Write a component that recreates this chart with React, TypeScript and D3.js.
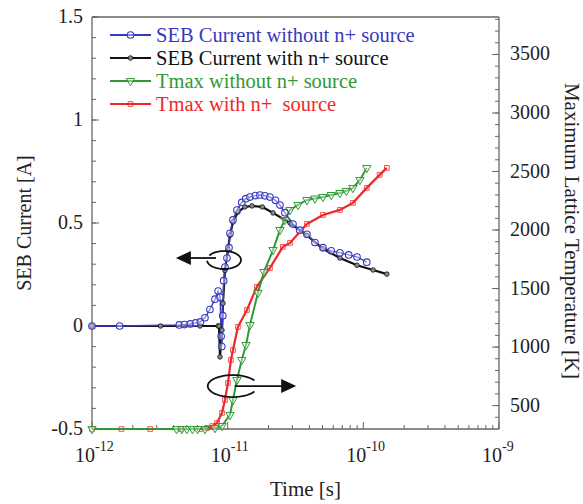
import React from 'react';
import * as d3 from 'd3';

// ---- data ----
const blueTime = [1e-12, 1.6e-12, 4.4e-12, 4.8e-12, 5.3e-12, 5.8e-12, 6.3e-12, 6.8e-12, 7.4e-12, 8.06e-12, 8.5e-12, 8.8e-12, 8.95e-12, 9.05e-12, 9.2e-12, 9.35e-12, 9.55e-12, 9.88e-12, 1.023e-11, 1.04e-11, 1.094e-11, 1.17e-11, 1.27e-11, 1.36e-11, 1.46e-11, 1.6e-11, 1.73e-11, 1.88e-11, 2.05e-11, 2.25e-11, 2.43e-11, 2.64e-11, 3.03e-11, 3.4e-11, 3.84e-11, 4.4e-11, 5.04e-11, 5.8e-11, 6.72e-11, 7.8e-11, 8.98e-11, 1.06e-10];
const blueCurrent = [0, 0, 0.005, 0.007, 0.01, 0.015, 0.02, 0.04, 0.08, 0.13, 0.17, 0.14, -0.05, -0.1, 0.05, 0.22, 0.286, 0.33, 0.38, 0.45, 0.515, 0.563, 0.6, 0.618, 0.626, 0.633, 0.636, 0.632, 0.626, 0.61, 0.587, 0.55, 0.495, 0.465, 0.445, 0.405, 0.38, 0.365, 0.355, 0.345, 0.335, 0.31];

const blackTime = [1e-12, 3.2e-12, 6.25e-12, 8.5e-12, 8.63e-12, 8.78e-12, 9.08e-12, 9.23e-12, 9.55e-12, 1.005e-11, 1.04e-11, 1.094e-11, 1.19e-11, 1.34e-11, 1.51e-11, 1.8e-11, 2.16e-11, 2.88e-11, 3.84e-11, 5.04e-11, 6.72e-11, 8.98e-11, 1.18e-10, 1.49e-10];
const blackCurrent = [0, 0, 0, 0, 0, -0.15, -0.02, 0.11, 0.27, 0.37, 0.44, 0.505, 0.553, 0.578, 0.583, 0.578, 0.549, 0.5, 0.44, 0.375, 0.33, 0.295, 0.272, 0.252];

const greenTime = [1e-12, 4.2e-12, 4.6e-12, 5.0e-12, 5.5e-12, 6.0e-12, 6.8e-12, 8.06e-12, 9.08e-12, 1.04e-11, 1.094e-11, 1.17e-11, 1.27e-11, 1.365e-11, 1.46e-11, 1.67e-11, 1.85e-11, 2.16e-11, 2.43e-11, 2.64e-11, 2.88e-11, 3.3e-11, 3.84e-11, 4.4e-11, 5.04e-11, 5.8e-11, 6.72e-11, 7.5e-11, 8.38e-11, 9.44e-11, 1.06e-10];
const greenTemp = [300, 300, 300, 300, 300, 300, 300, 309, 326, 420, 548, 719, 890, 1018, 1189, 1462, 1642, 1830, 2001, 2086, 2172, 2215, 2257, 2270, 2283, 2300, 2317, 2335, 2360, 2428, 2531];

const redTime = [1e-12, 1.65e-12, 2.68e-12, 4.5e-12, 6.25e-12, 7.04e-12, 7.7e-12, 8.34e-12, 9.08e-12, 9.55e-12, 1.005e-11, 1.057e-11, 1.094e-11, 1.19e-11, 1.387e-11, 1.64e-11, 2.05e-11, 2.55e-11, 2.88e-11, 3.84e-11, 5.04e-11, 6.72e-11, 8.38e-11, 1.06e-10, 1.32e-10, 1.49e-10];
const redTemp = [300, 300, 300, 300, 300, 309, 325, 351, 437, 548, 693, 890, 975, 1172, 1317, 1514, 1676, 1856, 1890, 2052, 2129, 2172, 2232, 2360, 2471, 2531];

const legendLabels = ['SEB Current without n+ source', 'SEB Current with n+ source', 'Tmax without n+ source', 'Tmax with n+  source'];
const leftTickValues = [-0.5, 0, 0.5, 1, 1.5];
const leftTickLabels = ['-0.5', '0', '0.5', '1', '1.5'];
const rightTickValues = [500, 1000, 1500, 2000, 2500, 3000, 3500];
const xDecades = [1e-12, 1e-11, 1e-10, 1e-9];
const xExponents = ['-12', '-11', '-10', '-9'];

const W = 583, H = 504;
const FONT = "'Liberation Serif', 'Times New Roman', serif";
const AX = '#666';
const BLUE = '#3838c0';
const BLACK = '#111';
const GREEN = '#2f9a35';
const RED = '#f02828';

export default function App() {
  const x = d3.scaleLog().domain([1e-12, 1e-9]).range([92, 499]);
  const yL = d3.scaleLinear().domain([-0.5, 1.5]).range([429, 17]);
  const yR = d3.scaleLinear().domain([300, 3820]).range([429, 17]);

  const [x0, x1] = x.range();
  const [yb, yt] = yL.range();

  const mk = (ts: number[], vs: number[], ys: d3.ScaleLinear<number, number>) =>
    ts.map((t, i) => [x(t), ys(vs[i])] as [number, number]);
  const blue = mk(blueTime, blueCurrent, yL);
  const black = mk(blackTime, blackCurrent, yL);
  const green = mk(greenTime, greenTemp, yR);
  const red = mk(redTime, redTemp, yR);
  const line = d3.line();

  const tri = d3.symbol().type(d3.symbolTriangle).size(30)()!;
  const sq = d3.symbol().type(d3.symbolSquare).size(22)()!;

  const leftMinor = d3.range(-0.5, 1.5001, 0.1).map((v) => +v.toFixed(2));
  const rightMinor = d3.range(400, 3801, 100);
  const xMinor: number[] = [];
  for (let e = -12; e < -9; e++) for (let k = 2; k <= 9; k++) xMinor.push(k * Math.pow(10, e));

  const la = { tip: 4.15e-12, cx: 9.4e-12, v: 0.33 };
  const ra = { tip: 3.2e-11, cx: 1.09e-11, v: 667 };
  const lcx = x(la.cx), lcy = yL(la.v);
  const rcx = x(ra.cx), rcy = yR(ra.v);
  const ell = (cx: number, cy: number, rx: number, ry: number, a0: number, a1: number) => {
    const pts: [number, number][] = [];
    const n = 40;
    for (let i = 0; i <= n; i++) {
      const a = ((a0 + (a1 - a0) * (i / n)) * Math.PI) / 180;
      pts.push([cx + rx * Math.cos(a), cy + ry * Math.sin(a)]);
    }
    return d3.line()(pts)!;
  };

  const legendY = [35, 58, 81, 104];
  const legendColors = [BLUE, BLACK, GREEN, RED];

  const markerFor = (i: number, px: number, py: number, key: any) => {
    if (i === 0) return <circle key={key} cx={px} cy={py} r={3.3} fill="white" fillOpacity={0.4} stroke={BLUE} strokeWidth={1.1} />;
    if (i === 1) return <circle key={key} cx={px} cy={py} r={2.3} fill="#888" stroke={BLACK} strokeWidth={0.8} />;
    if (i === 2) return <path key={key} d={tri} transform={`translate(${px},${py}) rotate(180)`} fill="white" fillOpacity={0.4} stroke={GREEN} strokeWidth={1} />;
    return <path key={key} d={sq} transform={`translate(${px},${py})`} fill="none" stroke={RED} strokeWidth={1} opacity={0.8} />;
  };

  const txt = { fontFamily: FONT };

  return (
    <svg width={W} height={H} style={{ position: 'absolute', left: 0, top: 0, background: 'white', fontFamily: FONT }}>
      <g stroke={AX} strokeWidth={1.3} fill="none">
        <line x1={x0} y1={yt} x2={x1} y2={yt} />
        <line x1={x0} y1={yt} x2={x0} y2={yb} />
        <line x1={x1} y1={yt} x2={x1} y2={yb} />
        <line x1={x0} y1={yb} x2={x1} y2={yb} />
      </g>
      <g stroke={AX} strokeWidth={1}>
        {leftMinor.map((v) => (
          <line key={'lm' + v} x1={x0} x2={x0 + 4} y1={yL(v)} y2={yL(v)} />
        ))}
        {leftTickValues.map((v) => (
          <line key={'lM' + v} x1={x0} x2={x0 + 7} y1={yL(v)} y2={yL(v)} />
        ))}
        {rightMinor.map((v) => (
          <line key={'rm' + v} x1={x1} x2={x1 - 4} y1={yR(v)} y2={yR(v)} />
        ))}
        {rightTickValues.map((v) => (
          <line key={'rM' + v} x1={x1} x2={x1 - 7} y1={yR(v)} y2={yR(v)} />
        ))}
        {xMinor.map((v) => (
          <line key={'xm' + v} x1={x(v)} x2={x(v)} y1={yb} y2={yb - 4} />
        ))}
        {xDecades.map((v) => (
          <line key={'xM' + v} x1={x(v)} x2={x(v)} y1={yb} y2={yb - 7} />
        ))}
      </g>
      <g fontSize={20} fill="#222" style={txt}>
        {leftTickValues.map((v, i) => (
          <text key={'ll' + v} x={x0 - 9} y={yL(v) + 6} textAnchor="end">{leftTickLabels[i]}</text>
        ))}
        {rightTickValues.map((v) => (
          <text key={'rl' + v} x={x1 + 11} y={yR(v) + 6}>{v}</text>
        ))}
        {xDecades.map((v, i) => (
          <g key={'xl' + v}>
            <text x={x(v) + 3} y={yb + 33} textAnchor="end">10</text>
            <text x={x(v) + 3} y={yb + 22} fontSize={14}>{xExponents[i]}</text>
          </g>
        ))}
      </g>
      <text x={270} y={496} fontSize={21} fill="#222" style={txt}>Time [s]</text>
      <text transform={`translate(31,${(yt + yb) / 2}) rotate(-90)`} textAnchor="middle" fontSize={20} fill="#222" style={txt}>SEB Current [A]</text>
      <text transform={`translate(565,${(yt + yb) / 2 + 8}) rotate(90)`} textAnchor="middle" fontSize={21} fill="#222" style={txt}>Maximum Lattice Temperature [K]</text>

      <path d={line(red)!} fill="none" stroke={RED} strokeWidth={2.2} />
      <path d={line(green)!} fill="none" stroke={GREEN} strokeWidth={2} />
      <path d={line(black)!} fill="none" stroke={BLACK} strokeWidth={2.2} />
      <path d={line(blue)!} fill="none" stroke={BLUE} strokeWidth={1.4} />
      {red.map((p, i) => markerFor(3, p[0], p[1], 'r' + i))}
      {green.map((p, i) => markerFor(2, p[0], p[1], 'g' + i))}
      {black.map((p, i) => markerFor(1, p[0], p[1], 'k' + i))}
      {blue.map((p, i) => markerFor(0, p[0], p[1], 'b' + i))}

      <g stroke="#111" strokeWidth={1.8} fill="none">
        <path d={ell(lcx, lcy + 2, 17, 9, -150, 175)} />
        <line x1={x(la.tip) + 14} y1={lcy} x2={lcx - 8} y2={lcy} />
        <path d={ell(rcx, rcy, 25, 11, -30, -330)} />
        <line x1={rcx + 2} y1={rcy} x2={x(ra.tip) - 13} y2={rcy} />
      </g>
      <path d={`M${x(la.tip)},${lcy} l15,-7 l0,14 z`} fill="#111" />
      <path d={`M${x(ra.tip)},${rcy} l-15,-7 l0,14 z`} fill="#111" />

      {legendLabels.map((lab, i) => (
        <g key={'lg' + i}>
          <line x1={110} x2={151} y1={legendY[i]} y2={legendY[i]} stroke={legendColors[i]} strokeWidth={2} />
          {markerFor(i, 130.5, legendY[i], 'lm' + i)}
          <text x={156} y={legendY[i] + 7} fontSize={20.5} fill={legendColors[i]} style={{ ...txt, whiteSpace: 'pre' }}>{lab}</text>
        </g>
      ))}
    </svg>
  );
}
